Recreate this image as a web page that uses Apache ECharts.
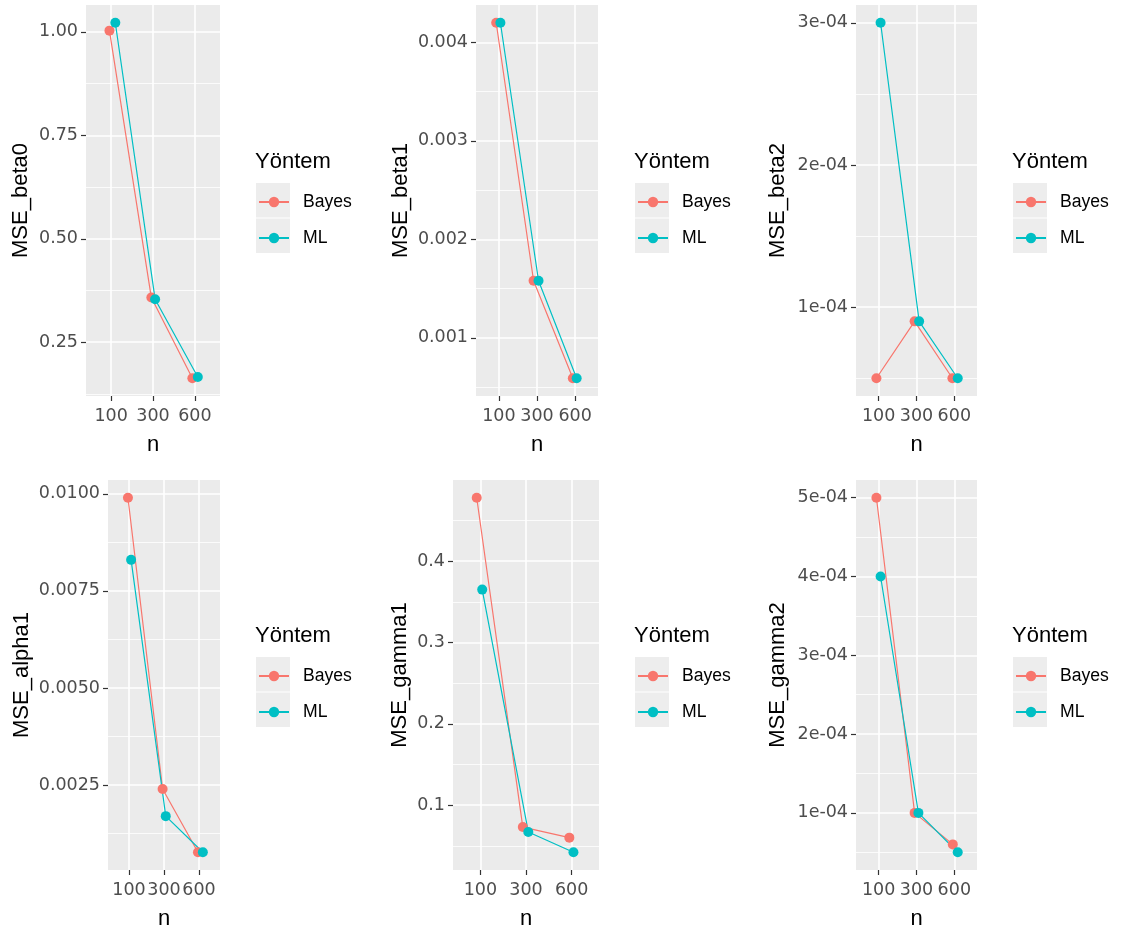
<!DOCTYPE html>
<html><head><meta charset="utf-8">
<script src="https://cdn.jsdelivr.net/npm/echarts@6/dist/echarts.min.js"></script>
<style>html,body{margin:0;padding:0;background:#fff}#c{width:1130px;height:934px}</style>
</head><body><div id="c"></div>
<script>
// ---------- data ----------
const nLabels = ['100', '300', '600'];
const methods = ['Bayes', 'ML'];
const yTitles = ['MSE_beta0', 'MSE_beta1', 'MSE_beta2', 'MSE_alpha1', 'MSE_gamma1', 'MSE_gamma2'];
const legendTitle = 'Yöntem';
const xTitle = 'n';

const beta0Bayes = [1.003, 0.358, 0.163];
const beta0ML    = [1.022, 0.354, 0.166];
const beta1Bayes = [0.0042, 0.00158, 0.00059];
const beta1ML    = [0.0042, 0.00158, 0.00059];
const beta2Bayes = [0.00005, 0.00009, 0.00005];
const beta2ML    = [0.0003, 0.00009, 0.00005];
const alpha1Bayes = [0.0099, 0.0024, 0.00077];
const alpha1ML    = [0.0083, 0.0017, 0.00077];
const gamma1Bayes = [0.478, 0.073, 0.060];
const gamma1ML    = [0.365, 0.067, 0.042];
const gamma2Bayes = [0.0005, 0.0001, 0.00006];
const gamma2ML    = [0.0004, 0.0001, 0.00005];

// horizontal jitter of each point (in category units)
const beta0JitB = [-0.04, -0.04, -0.06], beta0JitM = [0.10, 0.05, 0.07];
const beta1JitB = [-0.07, -0.09, -0.06], beta1JitM = [0.04, 0.04, 0.04];
const beta2JitB = [-0.06, -0.05, -0.05], beta2JitM = [0.05, 0.07, 0.09];
const alpha1JitB = [-0.03, -0.04, -0.03], alpha1JitM = [0.06, 0.05, 0.11];
const gamma1JitB = [-0.08, -0.07, -0.05], gamma1JitM = [0.04, 0.05, 0.04];
const gamma2JitB = [-0.06, -0.05, -0.04], gamma2JitM = [0.05, 0.05, 0.09];

// y tick breaks and labels
const beta0Ticks = [0.25, 0.5, 0.75, 1.0];
const beta0TickLabels = ['0.25', '0.50', '0.75', '1.00'];
const beta1Ticks = [0.001, 0.002, 0.003, 0.004];
const beta1TickLabels = ['0.001', '0.002', '0.003', '0.004'];
const beta2Ticks = [0.0001, 0.0002, 0.0003];
const beta2TickLabels = ['1e-04', '2e-04', '3e-04'];
const alpha1Ticks = [0.0025, 0.005, 0.0075, 0.01];
const alpha1TickLabels = ['0.0025', '0.0050', '0.0075', '0.0100'];
const gamma1Ticks = [0.1, 0.2, 0.3, 0.4];
const gamma1TickLabels = ['0.1', '0.2', '0.3', '0.4'];
const gamma2Ticks = [0.0001, 0.0002, 0.0003, 0.0004, 0.0005];
const gamma2TickLabels = ['1e-04', '2e-04', '3e-04', '4e-04', '5e-04'];

// ---------- assembly ----------
const panels = [
  {b: beta0Bayes, m: beta0ML, jb: beta0JitB, jm: beta0JitM, t: beta0Ticks, tl: beta0TickLabels},
  {b: beta1Bayes, m: beta1ML, jb: beta1JitB, jm: beta1JitM, t: beta1Ticks, tl: beta1TickLabels},
  {b: beta2Bayes, m: beta2ML, jb: beta2JitB, jm: beta2JitM, t: beta2Ticks, tl: beta2TickLabels},
  {b: alpha1Bayes, m: alpha1ML, jb: alpha1JitB, jm: alpha1JitM, t: alpha1Ticks, tl: alpha1TickLabels},
  {b: gamma1Bayes, m: gamma1ML, jb: gamma1JitB, jm: gamma1JitM, t: gamma1Ticks, tl: gamma1TickLabels},
  {b: gamma2Bayes, m: gamma2ML, jb: gamma2JitB, jm: gamma2JitM, t: gamma2Ticks, tl: gamma2TickLabels}
];

// layout (pixels)
const layout = [
  {left: 86,  top: 5,   width: 134, height: 391, gap: 54, lx: 256,  ly: 183},
  {left: 476, top: 5,   width: 122, height: 391, gap: 64, lx: 635,  ly: 183},
  {left: 856, top: 5,   width: 121, height: 391, gap: 67, lx: 1013, ly: 183},
  {left: 108, top: 480, width: 112, height: 390, gap: 75, lx: 256,  ly: 657},
  {left: 453, top: 480, width: 146, height: 390, gap: 42, lx: 635,  ly: 657},
  {left: 856, top: 480, width: 121, height: 390, gap: 67, lx: 1013, ly: 657}
];

const FONT = '"Liberation Sans", Arial, sans-serif';
const TICKFONT = '"DejaVu Sans", sans-serif';
const COL_B = '#F8766D', COL_M = '#00BFC4';
const grids = [], xAxes = [], yAxes = [], series = [], legends = [], titles = [], graphics = [];

panels.forEach((p, i) => {
  const L = layout[i];
  grids.push({left: L.left, top: L.top, width: L.width, height: L.height,
    show: true, backgroundColor: '#EBEBEB', borderWidth: 0, containLabel: false});

  const all = p.b.concat(p.m);
  const lo = Math.min.apply(null, all), hi = Math.max.apply(null, all);
  const ext = (hi - lo) * 0.05;
  const ymin = lo - ext, ymax = hi + ext;
  const step = p.t[1] - p.t[0];
  const minors = [];
  for (let k = -1; k < p.t.length; k++) {
    const v = p.t[0] + (k + 0.5) * step;
    if (v > ymin && v < ymax) minors.push(v);
  }

  xAxes.push({
    type: 'value', gridIndex: i, min: 0.4, max: 3.6,
    name: xTitle, nameLocation: 'middle', nameGap: 38,
    nameTextStyle: {fontSize: 22, color: '#000', fontFamily: FONT},
    axisLine: {show: false},
    axisTick: {show: true, length: 5, lineStyle: {color: '#333', width: 1.2}, customValues: [1, 2, 3]},
    axisLabel: {show: true, customValues: [1, 2, 3], margin: 11, fontSize: 17.5, color: '#4D4D4D', fontFamily: TICKFONT,
      formatter: v => nLabels[Math.round(v) - 1]},
    splitLine: {show: true, lineStyle: {color: '#FFFFFF', width: 1.6}},
    minorSplitLine: {show: false}
  });

  const main = yAxes.length;
  yAxes.push({
    type: 'value', gridIndex: i, min: ymin, max: ymax, position: 'left',
    name: yTitles[i], nameLocation: 'middle', nameRotate: 90, nameGap: L.gap,
    nameTextStyle: {fontSize: 22, color: '#000', fontFamily: FONT},
    axisLine: {show: false},
    axisTick: {show: true, length: 5, lineStyle: {color: '#333', width: 1.2}, customValues: p.t},
    axisLabel: {show: true, customValues: p.t, margin: 8, fontSize: 17.5, color: '#4D4D4D', fontFamily: TICKFONT,
      formatter: v => {
        const k = p.t.findIndex(t => Math.abs(t - v) <= Math.abs(t) * 1e-6);
        return k >= 0 ? p.tl[k] : '';
      }},
    splitLine: {show: true, lineStyle: {color: '#FFFFFF', width: 1.6}}
  });
  yAxes.push({
    type: 'value', gridIndex: i, min: ymin, max: ymax, position: 'right',
    axisLine: {show: false},
    axisTick: {show: false, customValues: minors},
    axisLabel: {show: false, customValues: minors},
    splitLine: {show: true, lineStyle: {color: '#FFFFFF', width: 0.8}}
  });

  [[p.b, p.jb, COL_B, 'Bayes'], [p.m, p.jm, COL_M, 'ML']].forEach(([vals, jit, col, name]) => {
    series.push({
      type: 'line', name: name, xAxisIndex: i, yAxisIndex: main,
      data: vals.map((v, k) => [k + 1 + jit[k], v]),
      symbol: 'circle', symbolSize: 10, showSymbol: true,
      lineStyle: {color: col, width: 1.2}, itemStyle: {color: col},
      emphasis: {disabled: true}, animation: false, silent: true
    });
  });

  titles.push({text: legendTitle, left: L.lx - 1, top: L.ly - 32, padding: 0,
    textStyle: {fontSize: 22, fontWeight: 'normal', color: '#000', fontFamily: FONT}});
  graphics.push({type: 'rect', z: 0, shape: {x: L.lx, y: L.ly, width: 34, height: 34.5}, style: {fill: '#EDEDED'}});
  graphics.push({type: 'rect', z: 0, shape: {x: L.lx, y: L.ly + 35.5, width: 34, height: 34.5}, style: {fill: '#EDEDED'}});
  legends.push({
    data: methods, orient: 'vertical', left: L.lx + 2, top: L.ly + 9, padding: 0,
    itemWidth: 30, itemHeight: 13, itemGap: 16, z: 10, selectedMode: false,
    textStyle: {fontSize: 17.6, color: '#000', fontFamily: FONT, lineHeight: 20, padding: [0, 0, 0, 9]}
  });
});

const chart = echarts.init(document.getElementById('c'), null, {renderer: 'canvas'});
chart.setOption({
  animation: false,
  backgroundColor: '#FFFFFF',
  title: titles,
  legend: legends,
  grid: grids,
  xAxis: xAxes,
  yAxis: yAxes,
  series: series,
  graphic: graphics
});
</script></body></html>
